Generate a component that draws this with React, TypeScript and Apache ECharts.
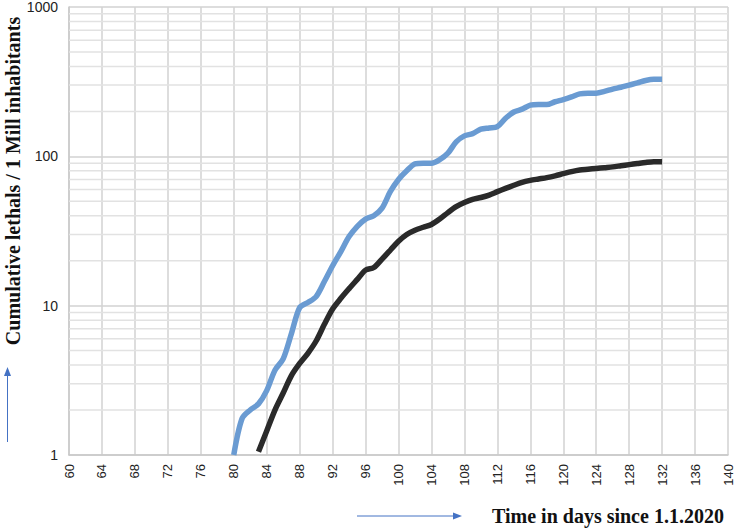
import React, { useEffect, useRef } from "react";
import * as echarts from "echarts";

const blueDays = [80,81,82,83,84,85,86,87,88,89,90,91,92,93,94,95,96,97,98,99,100,101,102,103,104,105,106,107,108,109,110,111,112,113,114,115,116,117,118,119,120,121,122,123,124,125,126,127,128,129,130,131,132];
const blueValues = [1.0,1.75,2.0,2.2,2.7,3.7,4.4,6.5,9.7,10.5,11.5,14.5,18.5,23,29,34,38,40,45,58,70,80,89,90,90,95,105,125,137,142,152,155,158,180,198,207,220,222,222,232,240,250,262,265,265,272,282,290,300,310,322,328,328];

const blackDays = [83,84,85,86,87,88,89,90,91,92,93,94,95,96,97,98,99,100,101,102,103,104,105,106,107,108,109,110,111,112,113,114,115,116,117,118,119,120,121,122,123,124,125,126,127,128,129,130,131,132];
const blackValues = [1.05,1.45,2.0,2.6,3.4,4.1,4.8,5.8,7.5,9.5,11.2,13,15,17.3,18,20.5,23.5,27,30,32,33.5,35,38,42,46,49,51.5,53,55,58,61,64,67,69,70.5,72,74,76.5,79,81,82,83,84,85,86.5,88,89.5,91,92,92];

const minorLevels = [2,3,4,5,6,7,8,9,20,30,40,50,60,70,80,90,200,300,400,500,600,700,800,900];
const xMin = 60;
const xMax = 140;

const yTitle = "Cumulative lethals / 1 Mill inhabitants";
const xTitle = "Time in days since 1.1.2020";

export default function App() {
  const ref = useRef<HTMLDivElement>(null);
  useEffect(() => {
    if (!ref.current) return;
    const chart = echarts.init(ref.current, null, { renderer: "svg" });
    const arrowColor = "#4472c4";
    const minorSeries = minorLevels.map((v) => ({
      type: "line",
      data: [[xMin, v], [xMax, v]],
      showSymbol: false,
      silent: true,
      z: 1,
      lineStyle: { color: "#e2e2e2", width: 1.5 },
    }));
    chart.setOption({
      animation: false,
      backgroundColor: "#ffffff",
      grid: { left: 69, right: 7, top: 5, bottom: 73, containLabel: false },
      xAxis: {
        type: "value",
        min: xMin,
        max: xMax,
        interval: 4,
        axisLine: { show: true, lineStyle: { color: "#c8c8c8", width: 1.5 } },
        axisTick: { show: false },
        splitLine: { show: true, lineStyle: { color: "#d2d2d2", width: 1.5 } },
        axisLabel: {
          rotate: 90,
          margin: 9,
          fontFamily: "Liberation Sans",
          fontSize: 13,
          color: "#222",
        },
      },
      yAxis: {
        type: "log",
        logBase: 10,
        min: 1,
        max: 1000,
        axisLine: { show: true, lineStyle: { color: "#c8c8c8", width: 1.5 } },
        axisTick: { show: false },
        splitLine: { show: true, lineStyle: { color: "#d2d2d2", width: 1.5 } },
        axisLabel: {
          margin: 11,
          fontFamily: "Liberation Sans",
          fontSize: 14,
          color: "#222",
          formatter: (v: number) => String(Math.round(v)),
        },
      },
      series: [
        ...minorSeries,
        {
          type: "line",
          data: blueDays.map((d, i) => [d, blueValues[i]]),
          showSymbol: false,
          smooth: 0.3,
          z: 3,
          lineStyle: { color: "#6a9bd2", width: 5.5 },
        },
        {
          type: "line",
          data: blackDays.map((d, i) => [d, blackValues[i]]),
          showSymbol: false,
          smooth: 0.3,
          z: 3,
          lineStyle: { color: "#2a2a2a", width: 5.5 },
        },
      ],
      graphic: [
        {
          type: "text",
          x: 13,
          y: 181,
          rotation: Math.PI / 2,
          style: {
            text: yTitle,
            font: "bold 20px 'Liberation Serif'",
            fill: "#111",
            align: "center",
            verticalAlign: "middle",
          },
        },
        {
          type: "text",
          x: 492,
          y: 516,
          style: {
            text: xTitle,
            font: "bold 20px 'Liberation Serif'",
            fill: "#111",
            align: "left",
            verticalAlign: "middle",
          },
        },
        {
          type: "line",
          shape: { x1: 7.5, y1: 442, x2: 7.5, y2: 374 },
          style: { stroke: arrowColor, lineWidth: 1 },
        },
        {
          type: "polygon",
          shape: { points: [[7.5, 367], [4, 376], [11, 376]] },
          style: { fill: arrowColor },
        },
        {
          type: "line",
          shape: { x1: 357, y1: 516, x2: 455, y2: 516 },
          style: { stroke: arrowColor, lineWidth: 1 },
        },
        {
          type: "polygon",
          shape: { points: [[462, 516], [453, 512.5], [453, 519.5]] },
          style: { fill: arrowColor },
        },
      ],
    });
    return () => chart.dispose();
  }, []);
  return <div ref={ref} style={{ width: 735, height: 528, position: "absolute", left: 0, top: 0 }} />;
}
